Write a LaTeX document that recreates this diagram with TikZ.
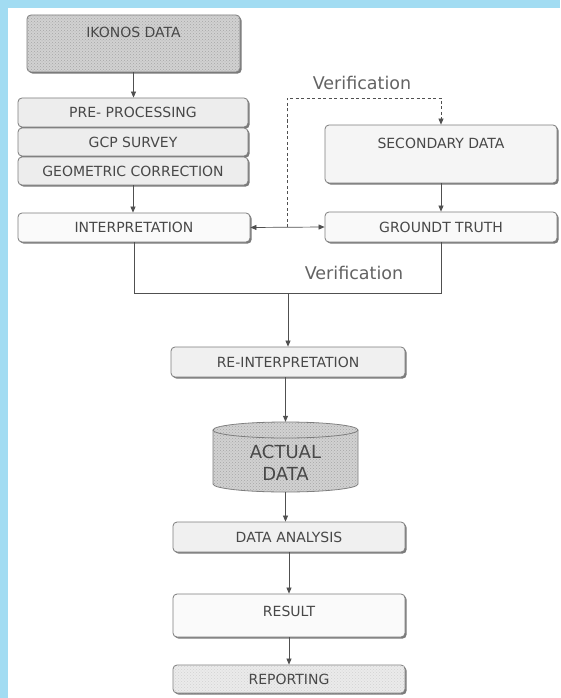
\documentclass[tikz,border=0pt]{standalone}
\usepackage{fontspec}
\setmainfont{DejaVu Sans}
\usetikzlibrary{shadows,arrows.meta,patterns,calc}
\definecolor{bgblue}{RGB}{162,220,242}
\definecolor{txt}{RGB}{72,72,72}
\definecolor{ln}{RGB}{80,80,80}
\definecolor{bd}{RGB}{125,125,125}
\begin{document}
\begin{tikzpicture}[x=1pt,y=-1pt,
  box/.style={draw=bd, line width=0.8pt, rounded corners=4pt, fill=white, text=txt,
    font=\fontsize{14}{16}\selectfont, inner sep=0pt,
    drop shadow={shadow xshift=1.6pt, shadow yshift=-1.6pt, fill=black!65, opacity=0.8}},
  lbl/.style={text=txt, font=\fontsize{14}{16}\selectfont, inner sep=0pt},
  arr/.style={draw=ln, line width=0.7pt, -{Triangle[length=6pt,width=5pt]}},
  lnk/.style={draw=ln, line width=0.7pt},
  verif/.style={text=txt!85, font=\fontsize{17.5}{19}\selectfont, inner sep=0pt},
  tex/.style={postaction={pattern=crosshatch dots, pattern color=gray!70}},
  texl/.style={postaction={pattern=crosshatch dots, pattern color=gray!35}},
]
\fill[white] (0,0) rectangle (560,698);
\fill[bgblue] (0,0) rectangle (560,8.5);
\fill[bgblue] (0,0) rectangle (8,698);
\useasboundingbox (0,0) rectangle (560,698);

% left column
\node[box, fill=gray!36, tex, minimum width=213pt, minimum height=57pt] (ik) at (133.5,43.5) {};
\node[lbl] (ikt) at (133.5,32) {IKONOS DATA};
\node[box, fill=gray!14, minimum width=230pt, minimum height=29pt] (pre) at (133,112.5) {PRE- PROCESSING};
\node[box, fill=gray!14, minimum width=230pt, minimum height=28pt] (gcp) at (133,142) {GCP SURVEY};
\node[box, fill=gray!14, minimum width=230pt, minimum height=28pt] (geo) at (133,171) {GEOMETRIC CORRECTION};
\node[box, fill=gray!4, minimum width=232pt, minimum height=29pt] (interp) at (134,227.5) {INTERPRETATION};

% right column
\node[box, fill=gray!8, minimum width=232pt, minimum height=58pt] (sec) at (441,154) {};
\node[lbl] (sect) at (441,143) {SECONDARY DATA};
\node[box, fill=gray!5, minimum width=232pt, minimum height=30pt] (gt) at (441,227) {GROUNDT TRUTH};

% centre column
\node[box, fill=gray!12, minimum width=234pt, minimum height=30pt] (reint) at (288,362) {RE-INTERPRETATION};
\node[minimum width=145pt, minimum height=70pt, inner sep=0pt] (cyl) at (285.5,457) {};
\path[fill=gray!36, tex, draw=bd, line width=0.8pt]
  (213,430) -- (213,484) arc[start angle=180, end angle=0, x radius=72.5, y radius=8]
  -- (358,430) arc[start angle=360, end angle=180, x radius=72.5, y radius=8] -- cycle;
\draw[bd, line width=0.8pt] (213,430) arc[start angle=180, end angle=0, x radius=72.5, y radius=8];
\node[text=txt, font=\fontsize{18}{22}\selectfont, align=center, inner sep=0pt] (cylt) at (285.5,463) {ACTUAL\\DATA};
\node[box, fill=gray!12, minimum width=232pt, minimum height=30pt] (da) at (289,537) {DATA ANALYSIS};
\node[box, fill=gray!4, minimum width=232pt, minimum height=43pt] (res) at (289,615.5) {};
\node[lbl] (rest) at (289,611) {RESULT};
\node[box, fill=gray!16, texl, minimum width=232pt, minimum height=28pt] (rep) at (289,679) {};
\node[lbl] (rept) at (289,679) {REPORTING};

% labels
\node[verif] (v1) at (362,83) {Verification};
\node[verif] (v2) at (354,273) {Verification};

% connectors
\draw[arr] (ik.south) -- (ik.south |- pre.north);
\draw[arr] (geo.south) -- (geo.south |- interp.north);
\draw[lnk, {Triangle[length=6pt,width=5pt]}-{Triangle[length=6pt,width=5pt]}] (interp.east) -- (gt.west);
\coordinate (dv) at (287,227);
\coordinate (dtop) at (287,98);
\draw[arr, dash pattern=on 3pt off 2.5pt] (dv) -- (dtop) -| (sec.north);
\draw[arr] (sec.south) -- (gt.north);
\coordinate (jn) at (288,293);
\draw[lnk] (interp.south) -- (interp.south |- jn) -- (gt.south |- jn) -- (gt.south);
\draw[arr] (jn) -- (jn |- reint.north);
\draw[arr] (reint.south -| cyl.north) -- (cyl.north);
\draw[arr] (cyl.south) -- (cyl.south |- da.north);
\draw[arr] (da.south) -- (res.north);
\draw[arr] (res.south) -- (rep.north);
\end{tikzpicture}
\end{document}
